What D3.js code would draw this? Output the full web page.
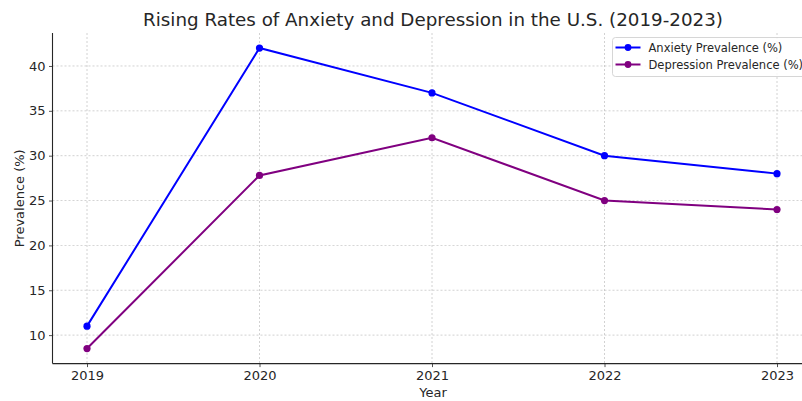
<!DOCTYPE html>
<html lang="en">
<head>
  <meta charset="UTF-8">
  <title>Rising Rates of Anxiety and Depression</title>
  <script src="https://d3js.org/d3.v7.min.js"></script>
  <style>
    body { margin: 0; background: #fff; }
    text { font-family: "DejaVu Sans", sans-serif; fill: #262626; }
  </style>
</head>
<body>
  <svg width="802" height="401"></svg>
<script>
// data
var years = [2019, 2020, 2021, 2022, 2023];
var anxiety = [11, 42, 37, 30, 28];
var depression = [8.5, 27.8, 32, 25, 24];
var yTicks = [10, 15, 20, 25, 30, 35, 40];
var seriesNames = ["Anxiety Prevalence (%)", "Depression Prevalence (%)"];
var seriesColors = ["#0000ff", "#800080"];

var svg = d3.select("svg");

// axes box: right side runs off the picture like in the original
// (not called "top" - that name belongs to window)
var boxL = 52.5, boxR = 811.5, boxT = 33, boxB = 363.6;

var x = d3.scaleLinear().domain([2018.8, 2023.2]).range([boxL, boxR]);
var y = d3.scaleLinear().domain([6.825, 43.675]).range([boxB, boxT]);

// grid
var grid = svg.append("g");
grid.selectAll(".gx").data(years).enter().append("line")
  .attr("x1", function(d){ return x(d); }).attr("x2", function(d){ return x(d); })
  .attr("y1", boxT).attr("y2", boxB)
  .attr("stroke", "#b0b0b0").attr("stroke-width", 0.8)
  .attr("stroke-dasharray", "2,2").attr("opacity", 0.7);
grid.selectAll(".gy").data(yTicks).enter().append("line")
  .attr("x1", boxL).attr("x2", boxR)
  .attr("y1", function(d){ return y(d); }).attr("y2", function(d){ return y(d); })
  .attr("stroke", "#b0b0b0").attr("stroke-width", 0.8)
  .attr("stroke-dasharray", "2,2").attr("opacity", 0.7);

// axes
var xAxis = svg.append("g")
  .attr("transform", "translate(0," + boxB + ")")
  .call(d3.axisBottom(x).tickValues(years).tickFormat(d3.format("d")).tickSize(3.5).tickPadding(3.5));
var yAxis = svg.append("g")
  .attr("transform", "translate(" + boxL + ",0)")
  .call(d3.axisLeft(y).tickValues(yTicks).tickSize(3.5).tickPadding(3.5));

[xAxis, yAxis].forEach(function(a){
  a.selectAll("text").style("font-size", "13px").attr("fill", "#262626")
    .style("font-family", "DejaVu Sans, sans-serif");
  a.selectAll("line").attr("stroke", "#262626").attr("stroke-width", 0.8);
  a.select(".domain").attr("stroke", "#262626").attr("stroke-width", 1.1);
});
// only left and bottom spines: strip the end caps of the domain paths
xAxis.select(".domain").attr("d", "M" + boxL + ",0H" + boxR);
yAxis.select(".domain").attr("d", "M0," + boxT + "V" + boxB);

svg.append("text")
  .attr("x", 433).attr("y", 397)
  .attr("text-anchor", "middle").style("font-size", "13px")
  .text("Year");

svg.append("text")
  .attr("transform", "translate(24," + ((boxT + boxB) / 2) + ") rotate(-90)")
  .attr("text-anchor", "middle").style("font-size", "13px")
  .text("Prevalence (%)");

svg.append("text")
  .attr("x", 433).attr("y", 26)
  .attr("text-anchor", "middle").style("font-size", "18.3px")
  .text("Rising Rates of Anxiety and Depression in the U.S. (2019-2023)");

// lines
var line = d3.line()
  .x(function(d, i){ return x(years[i]); })
  .y(function(d){ return y(d); });

[anxiety, depression].forEach(function(vals, k){
  svg.append("path")
    .datum(vals)
    .attr("fill", "none")
    .attr("stroke", seriesColors[k])
    .attr("stroke-width", 2)
    .attr("d", line);
  svg.selectAll(".pt" + k).data(vals).enter().append("circle")
    .attr("cx", function(d, i){ return x(years[i]); })
    .attr("cy", function(d){ return y(d); })
    .attr("r", 3.6)
    .attr("fill", seriesColors[k]);
});

// legend
var lg = svg.append("g").attr("transform", "translate(612.5,37.5)");
lg.append("rect")
  .attr("width", 196).attr("height", 39).attr("rx", 3)
  .attr("fill", "#fff").attr("fill-opacity", 0.8)
  .attr("stroke", "#cccccc").attr("stroke-width", 0.8);
seriesNames.forEach(function(name, k){
  var yy = 10 + k * 17;
  lg.append("line").attr("x1", 3).attr("x2", 28).attr("y1", yy).attr("y2", yy)
    .attr("stroke", seriesColors[k]).attr("stroke-width", 2);
  lg.append("circle").attr("cx", 15.5).attr("cy", yy).attr("r", 3.4).attr("fill", seriesColors[k]);
  lg.append("text").attr("x", 36).attr("y", yy + 4)
    .style("font-size", "11.5px").text(name);
});
</script>
</body>
</html>
